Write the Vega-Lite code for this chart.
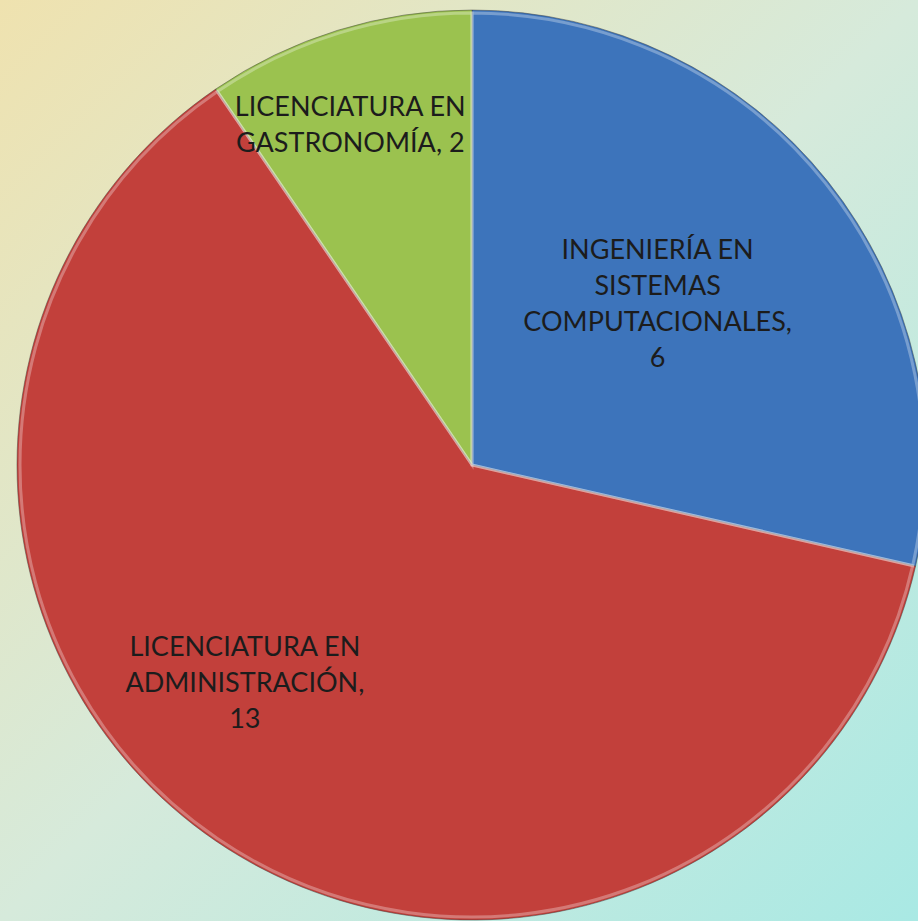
{
  "$schema": "https://vega.github.io/schema/vega-lite/v6.json",
  "width": 892,
  "height": 912,
  "autosize": {"type": "none"},
  "padding": {"left": 26, "top": 9, "right": 0, "bottom": 0},
  "background": "#dde0c6",
  "config": {"view": {"stroke": null}},
  "data": {
    "values": [
      {"carrera": "INGENIERÍA EN SISTEMAS COMPUTACIONALES", "n": 6, "etiqueta": "INGENIERÍA EN\nSISTEMAS\nCOMPUTACIONALES,\n6"},
      {"carrera": "LICENCIATURA EN ADMINISTRACIÓN", "n": 13, "etiqueta": "LICENCIATURA EN\nADMINISTRACIÓN,\n13"},
      {"carrera": "LICENCIATURA EN GASTRONOMÍA", "n": 2, "etiqueta": "LICENCIATURA EN\nGASTRONOMÍA, 2"}
    ]
  },
  "layer": [
    {
      "data": {"values": [{"fondo": 1}]},
      "mark": {
        "type": "rect",
        "x": -26,
        "y": -9,
        "x2": {"expr": "width"},
        "y2": {"expr": "height"},
        "color": {
          "gradient": "linear",
          "x1": 0, "y1": 0, "x2": 1, "y2": 1,
          "stops": [
            {"offset": 0, "color": "#efe2af"},
            {"offset": 0.5, "color": "#d6eadb"},
            {"offset": 1, "color": "#a9e9e4"}
          ]
        }
      },
      "encoding": {}
    },
    {
      "mark": {"type": "arc", "outerRadius": 455, "stroke": "#3a3a3a", "strokeOpacity": 0.45, "strokeWidth": 1},
      "encoding": {
        "theta": {"field": "n", "type": "quantitative", "stack": true},
        "order": {"field": "carrera", "sort": "ascending"},
        "color": {
          "field": "carrera",
          "type": "nominal",
          "scale": {
            "domain": ["INGENIERÍA EN SISTEMAS COMPUTACIONALES", "LICENCIATURA EN ADMINISTRACIÓN", "LICENCIATURA EN GASTRONOMÍA"],
            "range": ["#3d74bb", "#c2403b", "#9bc24f"]
          },
          "legend": null
        }
      }
    },
    {
      "mark": {"type": "arc", "outerRadius": 452, "fill": "transparent", "stroke": "#ffffff", "strokeOpacity": 0.3, "strokeWidth": 3},
      "encoding": {
        "theta": {"field": "n", "type": "quantitative", "stack": true},
        "order": {"field": "carrera", "sort": "ascending"}
      }
    },
    {
      "mark": {
        "type": "text",
        "font": "Lato",
        "fontSize": 27,
        "lineHeight": 36,
        "lineBreak": "\n",
        "align": "center",
        "baseline": "middle",
        "color": "#1c1c1c",
        "radius": 318,
        "dx": {"expr": "datum.carrera === 'INGENIERÍA EN SISTEMAS COMPUTACIONALES' ? -63 : datum.carrera === 'LICENCIATURA EN ADMINISTRACIÓN' ? -48 : -28"},
        "dy": {"expr": "datum.carrera === 'INGENIERÍA EN SISTEMAS COMPUTACIONALES' ? -16 : datum.carrera === 'LICENCIATURA EN ADMINISTRACIÓN' ? -80 : -53"}
      },
      "encoding": {
        "theta": {"field": "n", "type": "quantitative", "stack": true},
        "order": {"field": "carrera", "sort": "ascending"},
        "text": {"field": "etiqueta", "type": "nominal"}
      }
    }
  ]
}
